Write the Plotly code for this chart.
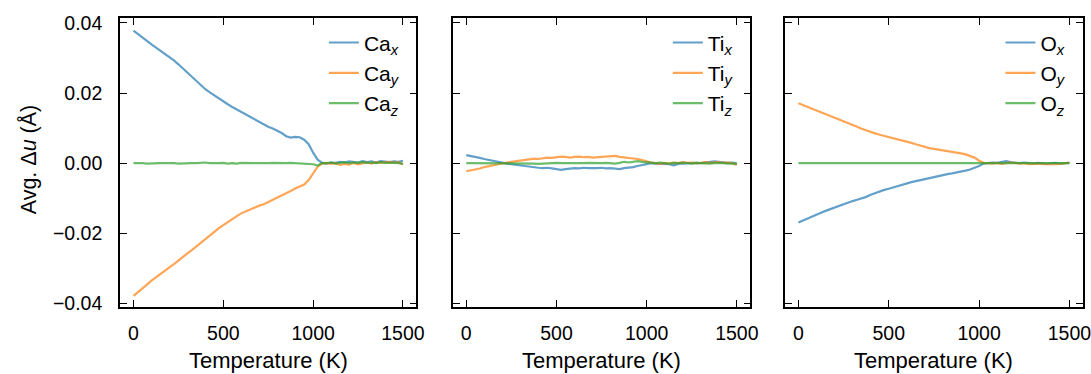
import plotly.graph_objects as go

temperature = [0, 25, 50, 75, 100, 125, 150, 175, 200, 225, 250, 275, 300, 325, 350, 375, 400, 425, 450, 475,
               500, 525, 550, 575, 600, 625, 650, 675, 700, 725, 750, 775, 800, 825, 850, 875, 900, 925, 950, 975,
               1000, 1025, 1050, 1075, 1100, 1125, 1150, 1175, 1200, 1225, 1250, 1275, 1300, 1325, 1350, 1375, 1400,
               1425, 1450, 1475, 1500]

ca_x = [0.0378, 0.0369, 0.0359, 0.0349, 0.0339, 0.0330, 0.0321, 0.0312, 0.0303, 0.0293, 0.0282, 0.0270, 0.0258,
        0.0246, 0.0234, 0.0222, 0.0211, 0.0202, 0.0193, 0.0185, 0.0176, 0.0168, 0.0160, 0.0153, 0.0146, 0.0138,
        0.0130, 0.0123, 0.0117, 0.0110, 0.0104, 0.0099, 0.0093, 0.0086, 0.0077, 0.0073, 0.0075, 0.0074, 0.0067,
        0.0054, 0.0030, 0.0010, 0.0001, -0.0001, 0.0002, 0.0001, 0.0004, 0.0002, 0.0005, 0.0003, 0.0002, 0.0006,
        0.0003, 0.0005, 0.0002, 0.0006, 0.0004, 0.0003, 0.0005, 0.0004, 0.0007]
ca_y = [-0.0378, -0.0368, -0.0358, -0.0346, -0.0335, -0.0326, -0.0316, -0.0308, -0.0299, -0.0288, -0.0278,
        -0.0267, -0.0257, -0.0248, -0.0238, -0.0227, -0.0216, -0.0208, -0.0196, -0.0185, -0.0176, -0.0168,
        -0.0160, -0.0151, -0.0143, -0.0137, -0.0131, -0.0126, -0.0121, -0.0117, -0.0111, -0.0104, -0.0099,
        -0.0092, -0.0085, -0.0079, -0.0072, -0.0066, -0.0061, -0.0048, -0.0029, -0.0010, -0.0001, 0.0001,
        -0.0002, 0.0000, -0.0005, -0.0002, -0.0004, 0.0001, -0.0003, 0.0000, 0.0002, -0.0001, 0.0003, 0.0001,
        0.0002, 0.0004, 0.0002, 0.0003, -0.0003]
ca_z = [0.0000, 0.0001, 0.0000, -0.0001, 0.0000, 0.0001, 0.0000, 0.0000, 0.0001, 0.0000, -0.0001, 0.0000, 0.0001,
        0.0000, 0.0000, 0.0001, 0.0002, 0.0000, -0.0001, 0.0000, 0.0001, -0.0001, 0.0000, -0.0001, 0.0001, 0.0000,
        -0.0001, 0.0000, 0.0000, -0.0001, 0.0000, 0.0001, 0.0000, -0.0001, 0.0000, 0.0001, 0.0000, -0.0001, 0.0000,
        -0.0001, -0.0003, -0.0007, 0.0001, 0.0000, 0.0002, -0.0001, 0.0001, 0.0003, 0.0000, 0.0002, 0.0001, 0.0003,
        0.0001, 0.0002, 0.0000, 0.0003, 0.0001, 0.0002, 0.0001, 0.0000, -0.0002]

ti_x = [0.0023, 0.0021, 0.0018, 0.0015, 0.0012, 0.0009, 0.0006, 0.0003, 0.0001, -0.0001, -0.0003, -0.0005,
        -0.0007, -0.0009, -0.0011, -0.0012, -0.0013, -0.0014, -0.0013, -0.0015, -0.0016, -0.0019, -0.0017,
        -0.0015, -0.0014, -0.0015, -0.0013, -0.0014, -0.0015, -0.0014, -0.0013, -0.0015, -0.0014, -0.0016,
        -0.0017, -0.0014, -0.0013, -0.0011, -0.0008, -0.0006, -0.0003, 0.0000, -0.0001, -0.0002, -0.0001,
        -0.0003, -0.0006, -0.0002, -0.0001, 0.0000, -0.0001, 0.0001, 0.0000, 0.0002, 0.0003, 0.0005, 0.0004,
        0.0002, 0.0001, 0.0002, -0.0001]
ti_y = [-0.0023, -0.0021, -0.0018, -0.0015, -0.0011, -0.0008, -0.0005, -0.0002, 0.0000, 0.0002, 0.0004, 0.0006,
        0.0007, 0.0009, 0.0012, 0.0013, 0.0012, 0.0014, 0.0016, 0.0015, 0.0017, 0.0019, 0.0018, 0.0016, 0.0018,
        0.0019, 0.0017, 0.0018, 0.0016, 0.0017, 0.0018, 0.0017, 0.0019, 0.0021, 0.0018, 0.0017, 0.0016, 0.0014,
        0.0012, 0.0009, 0.0005, 0.0002, 0.0000, -0.0002, 0.0001, -0.0001, 0.0002, 0.0000, 0.0003, 0.0001, 0.0002,
        0.0000, 0.0001, 0.0003, 0.0001, 0.0002, 0.0003, 0.0001, 0.0002, 0.0000, -0.0005]
ti_z = [0.0000, 0.0000, 0.0001, 0.0000, 0.0000, 0.0001, 0.0000, 0.0000, 0.0000, 0.0001, 0.0000, -0.0001, 0.0000,
        0.0001, 0.0000, -0.0001, -0.0002, -0.0001, 0.0000, -0.0001, 0.0001, 0.0000, -0.0001, 0.0000, 0.0000,
        -0.0001, 0.0000, 0.0001, 0.0000, -0.0001, 0.0000, 0.0001, 0.0000, -0.0001, 0.0001, 0.0004, 0.0002, 0.0005,
        0.0006, 0.0004, 0.0003, 0.0001, 0.0000, 0.0002, 0.0000, -0.0001, 0.0001, 0.0000, 0.0002, 0.0000, -0.0001,
        0.0001, 0.0000, 0.0001, -0.0001, 0.0000, 0.0001, 0.0000, -0.0001, 0.0000, -0.0001]

o_x = [-0.0169, -0.0163, -0.0158, -0.0153, -0.0147, -0.0141, -0.0136, -0.0131, -0.0126, -0.0121, -0.0116,
       -0.0112, -0.0108, -0.0104, -0.0101, -0.0096, -0.0090, -0.0085, -0.0081, -0.0076, -0.0073, -0.0069, -0.0064,
       -0.0061, -0.0057, -0.0054, -0.0051, -0.0048, -0.0045, -0.0041, -0.0038, -0.0036, -0.0033, -0.0031, -0.0029,
       -0.0027, -0.0023, -0.0021, -0.0018, -0.0014, -0.0008, -0.0001, 0.0001, 0.0002, 0.0001, 0.0003, 0.0006,
       0.0003, 0.0001, 0.0000, 0.0002, 0.0000, -0.0001, 0.0001, 0.0000, -0.0002, 0.0000, 0.0001, -0.0001, 0.0000,
       0.0001]
o_y = [0.0171, 0.0166, 0.0161, 0.0156, 0.0151, 0.0146, 0.0141, 0.0136, 0.0130, 0.0124, 0.0119, 0.0114, 0.0109,
       0.0104, 0.0098, 0.0093, 0.0089, 0.0085, 0.0081, 0.0078, 0.0074, 0.0070, 0.0067, 0.0064, 0.0062, 0.0058,
       0.0054, 0.0050, 0.0046, 0.0043, 0.0041, 0.0039, 0.0038, 0.0035, 0.0032, 0.0030, 0.0028, 0.0025, 0.0021,
       0.0016, 0.0007, 0.0001, 0.0000, -0.0001, 0.0001, -0.0002, 0.0000, 0.0002, 0.0001, -0.0001, 0.0000, -0.0003,
       -0.0002, -0.0001, -0.0002, -0.0003, -0.0004, -0.0003, -0.0002, -0.0001, 0.0002]
o_z = [0.0000, 0.0000, 0.0001, 0.0000, 0.0000, -0.0001, 0.0000, 0.0000, 0.0001, 0.0000, 0.0000, 0.0000, -0.0001,
       0.0000, 0.0000, 0.0001, 0.0000, 0.0000, 0.0000, -0.0001, 0.0000, 0.0000, 0.0001, 0.0000, 0.0000, 0.0000,
       -0.0001, 0.0000, 0.0000, 0.0001, 0.0000, 0.0000, 0.0000, 0.0000, 0.0001, 0.0000, 0.0000, -0.0001, 0.0000,
       0.0000, 0.0001, 0.0000, 0.0000, 0.0001, 0.0000, -0.0001, 0.0000, 0.0001, 0.0000, 0.0000, -0.0001, 0.0000,
       0.0001, 0.0000, 0.0000, -0.0001, 0.0000, 0.0001, 0.0000, 0.0000, 0.0000]

species = ["Ca", "Ti", "O"]
panel_series = [[ca_x, ca_y, ca_z], [ti_x, ti_y, ti_z], [o_x, o_y, o_z]]
components = ["x", "y", "z"]
colors = ["rgba(31,119,180,0.7)", "rgba(255,127,14,0.7)", "rgba(44,160,44,0.7)"]

x_ticks = [0, 500, 1000, 1500]
y_ticks = [-0.04, -0.02, 0.00, 0.02, 0.04]
y_ticktext = ["\u22120.04", "\u22120.02", "0.00", "0.02", "0.04"]
x_title = "Temperature (K)"
y_title = "Avg. \u0394<i>u</i> (\u00c5)"

FONT = "Liberation Sans, Arial, Helvetica, sans-serif"
W, H = 1131, 374
ml, mt, mb = 119.5, 14, 66.5
plot_right = 1082.7
mr = W - plot_right
pw = W - ml - mr
ph = H - mt - mb
panel_px = [(119.5, 416.0), (452.3, 750.0), (784.5, 1082.7)]
domains = [((a - ml) / pw, (b - ml) / pw) for a, b in panel_px]

fig = go.Figure()
for i, (sp, series) in enumerate(zip(species, panel_series)):
    xa = "x" if i == 0 else f"x{i+1}"
    ya = "y" if i == 0 else f"y{i+1}"
    lg = "legend" if i == 0 else f"legend{i+1}"
    for comp, vals, col in zip(components, series, colors):
        fig.add_trace(go.Scatter(
            x=temperature, y=vals, mode="lines",
            line=dict(color=col, width=2.2),
            name=f"{sp}<sub><i>{comp}</i></sub>",
            xaxis=xa, yaxis=ya, legend=lg,
        ))

axis_common = dict(
    showline=True, linecolor="black", linewidth=1.6, mirror="ticks",
    ticks="inside", ticklen=7, tickwidth=1.4, tickcolor="black",
    showgrid=False, zeroline=False,
    ticklabeloverflow="allow",
    tickfont=dict(family=FONT, size=19.5, color="black"),
)

layout = dict(
    width=W, height=H,
    margin=dict(l=ml, r=mr, t=mt, b=mb, pad=0),
    paper_bgcolor="white", plot_bgcolor="white",
    font=dict(family=FONT, size=20, color="black"),
)
annotations = []
for i in range(3):
    sx = "" if i == 0 else str(i + 1)
    layout[f"xaxis{sx}"] = dict(
        axis_common, domain=list(domains[i]), range=[-75, 1575],
        tickvals=x_ticks, ticktext=[str(t) for t in x_ticks],
        ticklabelstandoff=8,
        anchor="y" if i == 0 else f"y{i+1}",
    )
    layout[f"yaxis{sx}"] = dict(
        axis_common, domain=[0, 1], range=[-0.041, 0.0414],
        tickvals=y_ticks, ticktext=y_ticktext,
        showticklabels=(i == 0),
        ticklabelstandoff=12,
        anchor="x" if i == 0 else f"x{i+1}",
    )
    if i > 0:
        layout[f"yaxis{sx}"]["matches"] = "y"
    layout["legend" if i == 0 else f"legend{i+1}"] = dict(
        x=domains[i][1] - 0.012, xanchor="right", y=0.985, yanchor="top",
        bgcolor="rgba(0,0,0,0)", borderwidth=0,
        font=dict(family=FONT, size=21, color="black"),
        tracegroupgap=0,
    )
    annotations.append(dict(
        text=x_title, xref="paper", yref="paper",
        x=(domains[i][0] + domains[i][1]) / 2, y=-(362 - (H - mb)) / ph,
        xanchor="center", yanchor="middle", showarrow=False,
        font=dict(family=FONT, size=22, color="black"),
    ))
annotations.append(dict(
    text=y_title, xref="paper", yref="paper",
    x=(28 - ml) / pw, y=((H - mb) - 158) / ph,
    xanchor="center", yanchor="middle", textangle=-90, showarrow=False,
    font=dict(family=FONT, size=21.5, color="black"),
))
layout["annotations"] = annotations

fig.update_layout(**layout)
fig.write_html(
    "out.html",
    post_script="document.documentElement.style.overflow='hidden';document.body.style.overflow='hidden';document.body.style.margin='0';",
)
